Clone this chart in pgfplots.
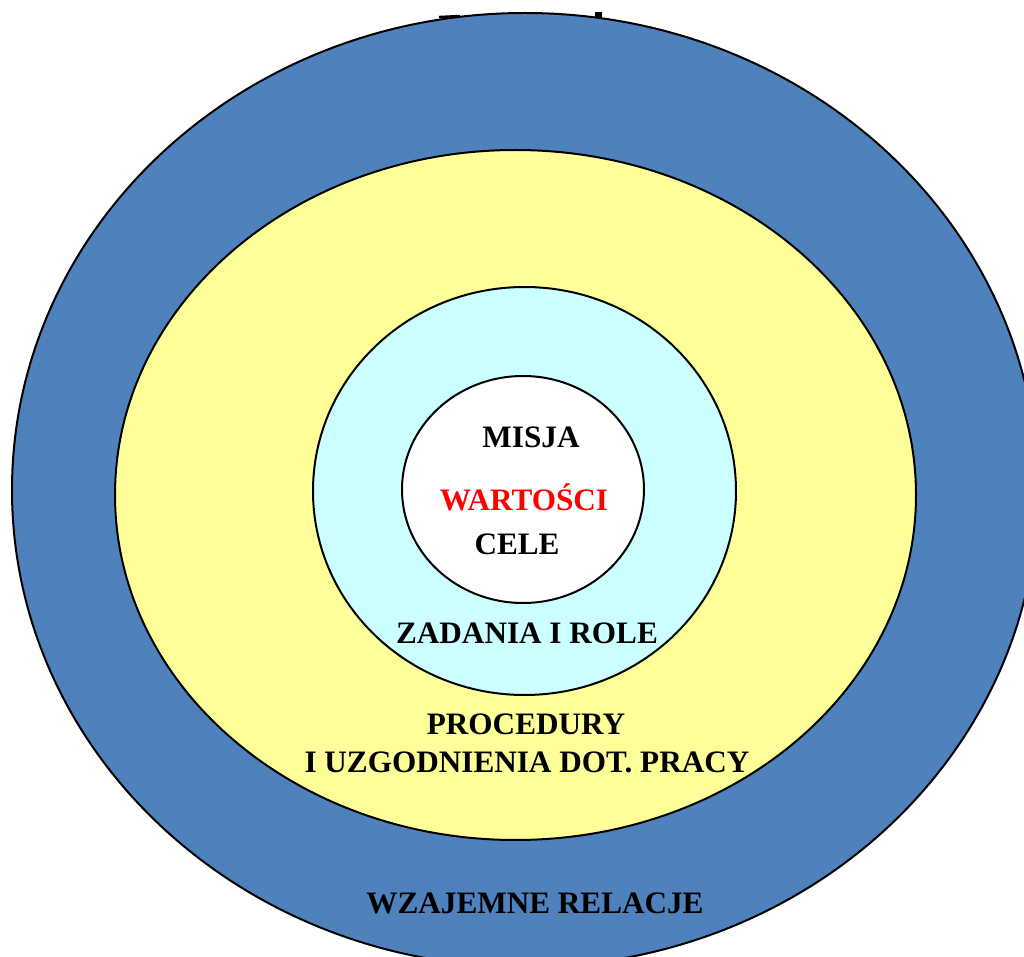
\documentclass[border=0pt]{standalone}
\usepackage{pgfplots}
\pgfplotsset{compat=1.18}
\usepackage{fontspec}
\setmainfont{Liberation Serif}
\definecolor{outerblue}{HTML}{4F81BD}
\definecolor{lyellow}{HTML}{FFFF99}
\definecolor{lcyan}{HTML}{CCFFFF}
\begin{document}
\begin{tikzpicture}
\useasboundingbox (0,0) rectangle (512pt,478.5pt);
\begin{axis}[
  at={(0,0)}, anchor=south west,
  scale only axis, width=512pt, height=478.5pt,
  xmin=0, xmax=1024, ymin=0, ymax=957, y dir=reverse,
  hide axis, clip=true,
]
\draw[line width=1pt, fill=outerblue] (axis cs:525,490) ellipse [x radius=513, y radius=477];
\draw[line width=1pt, fill=lyellow] (axis cs:515.5,495) ellipse [x radius=400.5, y radius=345];
\draw[line width=1pt, fill=lcyan] (axis cs:524.5,491) ellipse [x radius=211.5, y radius=204];
\draw[line width=1pt, fill=white] (axis cs:523,489.5) ellipse [x radius=121, y radius=113.5];
\draw[line width=1.2pt] (axis cs:439,17) -- (axis cs:460,16);
\fill (axis cs:595,12) rectangle (axis cs:602,18);
\begin{scope}[every node/.style={font=\fontsize{15.6}{18}\selectfont\bfseries, inner sep=0pt}]
\node at (axis cs:531,437) {MISJA};
\node[text=red] at (axis cs:524,497) {WARTOŚCI};
\node at (axis cs:517,544) {CELE};
\node at (axis cs:527,633) {ZADANIA I ROLE};
\node at (axis cs:526,724) {PROCEDURY};
\node at (axis cs:527,762) {I UZGODNIENIA DOT. PRACY};
\node at (axis cs:535,903) {WZAJEMNE RELACJE};
\end{scope}
\end{axis}
\end{tikzpicture}
\end{document}
